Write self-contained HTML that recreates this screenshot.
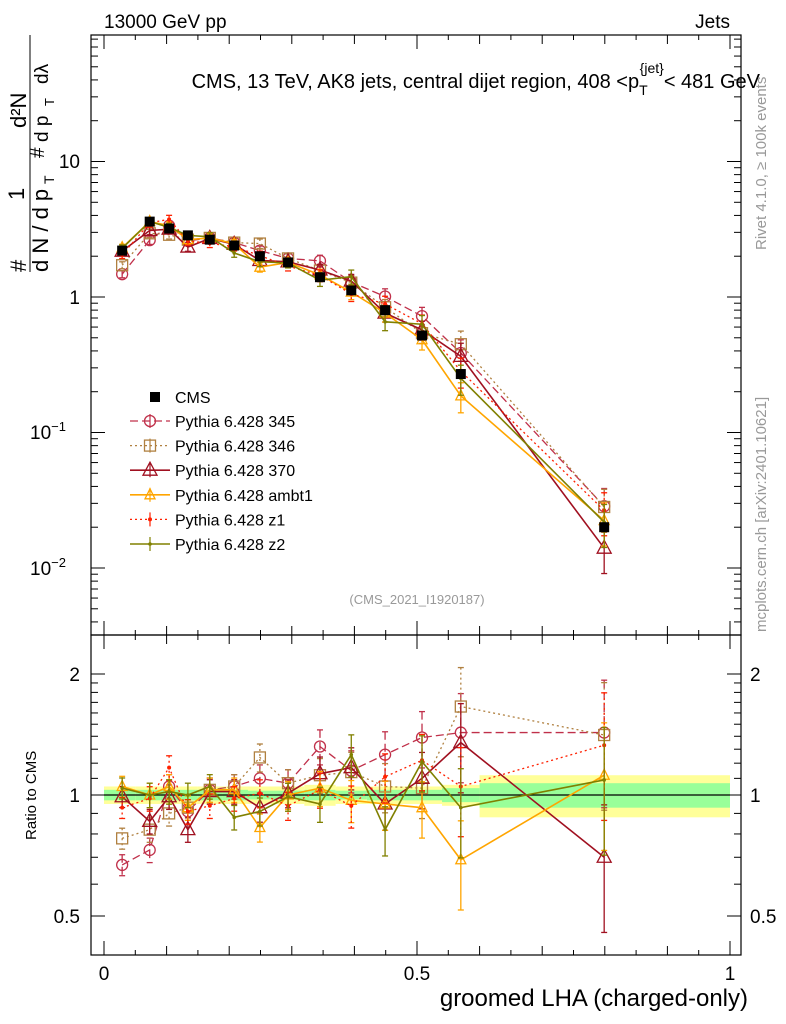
<!DOCTYPE html>
<html><head><meta charset="utf-8"><style>
body{margin:0;background:#fff;}
svg{display:block;font-family:"Liberation Sans",sans-serif;}
</style></head><body>
<svg id="c" width="786" height="1024" xmlns="http://www.w3.org/2000/svg">
<rect x="0" y="0" width="786" height="1024" fill="#fff"/>
<g id="bands"></g>
<g id="series"></g>
<g id="axes" stroke="#000" fill="none"></g>
<g id="labels"></g>
<text x="104" y="28" font-size="19">13000 GeV pp</text>
<text x="730" y="28" font-size="19" text-anchor="end">Jets</text>
<text x="760" y="88" font-size="20" text-anchor="end">CMS, 13 TeV, AK8 jets, central dijet region, 408 &lt;p<tspan font-size="14" dy="7">T</tspan><tspan font-size="14" dy="-22" dx="-8">{jet}</tspan><tspan dy="15">&lt; 481 GeV</tspan></text>
<text transform="translate(766,250) rotate(-90)" font-size="15" fill="#999">Rivet 4.1.0, ≥ 100k events</text>
<text transform="translate(766,632) rotate(-90)" font-size="15" fill="#999">mcplots.cern.ch [arXiv:2401.10621]</text>
<text x="417" y="604" font-size="13" fill="#999" text-anchor="middle">(CMS_2021_I1920187)</text>
<text x="748" y="1006" font-size="24" text-anchor="end">groomed LHA (charged-only)</text>
<text transform="translate(36,840) rotate(-90)" font-size="15">Ratio to CMS</text>
<g font-size="22">
<text transform="translate(26,272) rotate(-90)">#</text>
<text transform="translate(48,272) rotate(-90)">d N / d p</text>
<text transform="translate(54,184) rotate(-90)" font-size="14">T</text>
<text transform="translate(24,200) rotate(-90)">1</text>
<text transform="translate(44,158) rotate(-90)" font-size="19">#</text>
<text transform="translate(48,142) rotate(-90)" font-size="19">d p</text>
<text transform="translate(54,106) rotate(-90)" font-size="13">T</text>
<text transform="translate(26,128) rotate(-90)">d²N</text>
<text transform="translate(48,84) rotate(-90)" font-size="19">dλ</text>
<line x1="30" y1="272" x2="30" y2="35" stroke="#000"/>
</g>
<g id="legend"></g>
</svg>
<script>
const NS="http://www.w3.org/2000/svg";
const svg=document.getElementById('c');
const xs=[0.029,0.073,0.104,0.134,0.169,0.208,0.249,0.294,0.345,0.395,0.449,0.508,0.570,0.799];
const edges=[0,0.05,0.09,0.12,0.15,0.19,0.23,0.27,0.32,0.37,0.42,0.48,0.54,0.6,1.0];
const cms=[2.2,3.6,3.2,2.85,2.65,2.4,2.0,1.8,1.4,1.12,0.8,0.52,0.27,0.02];
const bandGreen=[0.03,0.03,0.03,0.03,0.03,0.03,0.025,0.025,0.03,0.025,0.03,0.03,0.04,0.07];
const bandYellow=[0.05,0.05,0.05,0.05,0.05,0.05,0.05,0.05,0.06,0.05,0.05,0.05,0.06,0.12];
const relErr=[0.06,0.07,0.07,0.07,0.07,0.07,0.08,0.08,0.1,0.12,0.14,0.16,0.25,0.35];
const r345=[0.67,0.73,1.05,0.91,1.03,1.05,1.10,1.07,1.32,1.15,1.26,1.39,1.43,1.43];
const r346=[0.78,0.82,0.90,0.93,1.03,1.05,1.24,1.07,1.12,1.14,1.05,1.04,1.66,1.41];
const r370=[0.99,0.86,0.99,0.82,1.02,1.02,0.93,1.01,1.13,1.17,0.95,1.10,1.35,0.70];
const rambt1=[1.05,1.0,1.05,0.93,1.03,1.03,0.83,1.0,1.04,0.97,0.95,0.93,0.69,1.12];
const rz1=[0.93,0.98,1.17,0.91,0.94,0.98,1.01,0.94,1.03,0.94,1.11,1.22,1.05,1.33];
const rz2=[1.04,1.0,1.02,1.0,1.05,0.88,0.91,0.99,0.95,1.26,0.82,1.21,0.93,1.09];
const seriesNames=["Pythia 6.428 345","Pythia 6.428 346","Pythia 6.428 370","Pythia 6.428 ambt1","Pythia 6.428 z1","Pythia 6.428 z2"];
const ratios=[r345,r346,r370,rambt1,rz1,rz2];
const styles=[
 {c:"#c0304a",d:"8,4",m:"circle",w:1.3,key:"pythia-345"},
 {c:"#b08040",d:"2,3",m:"square",w:1.3,key:"pythia-346"},
 {c:"#a01020",d:"",m:"tri",w:1.6,key:"pythia-370"},
 {c:"#ffa500",d:"",m:"tri-s",w:1.6,key:"pythia-ambt1"},
 {c:"#ff2000",d:"2,3",m:"dot",w:1.3,key:"pythia-z1"},
 {c:"#808000",d:"",m:"dot2",w:1.6,key:"pythia-z2"}];
const X=v=>104+v*626;
const Ym=v=>297-Math.log10(v)*135.5;
const Yr=v=>795-Math.log2(v)*121;
function el(t,a,p){const e=document.createElementNS(NS,t);for(const k in a)e.setAttribute(k,a[k]);(p||svg).appendChild(e);return e;}
const gb=document.getElementById('bands');
for(let i=0;i<xs.length;i++){
 const r1=el('rect',{x:X(edges[i]),width:X(edges[i+1])-X(edges[i]),y:Yr(1+bandYellow[i]),height:Yr(1-bandYellow[i])-Yr(1+bandYellow[i]),fill:"#ffff99"},gb);
 
 
 const r2=el('rect',{x:X(edges[i]),width:X(edges[i+1])-X(edges[i]),y:Yr(1+bandGreen[i]),height:Yr(1-bandGreen[i])-Yr(1+bandGreen[i]),fill:"#99ff99"},gb);
 
 
}
el('line',{x1:X(0),x2:X(1),y1:Yr(1),y2:Yr(1),stroke:"#000","stroke-width":1.2},gb);
function marker(g,m,x,y,c){
 if(m=="circle")el('circle',{cx:x,cy:y,r:5.5,fill:"none",stroke:c,"stroke-width":1.3},g);
 else if(m=="square")el('rect',{x:x-5.5,y:y-5.5,width:11,height:11,fill:"none",stroke:c,"stroke-width":1.3},g);
 else if(m=="tri")el('polygon',{points:`${x},${y-8} ${x-7},${y+5} ${x+7},${y+5}`,fill:"none",stroke:c,"stroke-width":1.3},g);
 else if(m=="tri-s")el('polygon',{points:`${x},${y-6} ${x-5},${y+4} ${x+5},${y+4}`,fill:"none",stroke:c,"stroke-width":1.3},g);
 else if(m=="dot")el('circle',{cx:x,cy:y,r:2,fill:c},g);
 else if(m=="dot2")el('circle',{cx:x,cy:y,r:1.8,fill:c},g);
 else if(m=="sq-fill")el('rect',{x:x-5,y:y-5,width:10,height:10,fill:c},g);
}
const gs=document.getElementById('series');
styles.forEach((s,k)=>{
 const g=el('g',{},gs);
 
 
 const r=ratios[k];
 let pm="",pr="";
 for(let i=0;i<xs.length;i++){const v=cms[i]*r[i];pm+=(i?"L":"M")+X(xs[i])+","+Ym(v);pr+=(i?"L":"M")+X(xs[i])+","+Yr(r[i]);}
 el('path',{d:pm,fill:"none",stroke:s.c,"stroke-width":s.w,"stroke-dasharray":s.d},g);
 el('path',{d:pr,fill:"none",stroke:s.c,"stroke-width":s.w,"stroke-dasharray":s.d},g);
 for(let i=0;i<xs.length;i++){
  const v=cms[i]*r[i],e=relErr[i],x=X(xs[i]);
  el('line',{x1:x,x2:x,y1:Ym(v*(1+e)),y2:Ym(v*(1-e)),stroke:s.c,"stroke-width":1.3,"stroke-dasharray":s.d},g);
  el('line',{x1:x,x2:x,y1:Yr(r[i]*(1+e)),y2:Yr(Math.max(0.4,r[i]*(1-e))),stroke:s.c,"stroke-width":1.3,"stroke-dasharray":s.d},g);
  [Ym(v*(1+e)),Ym(v*(1-e)),Yr(r[i]*(1+e)),Yr(Math.max(0.4,r[i]*(1-e)))].forEach(yy=>el('line',{x1:x-3,x2:x+3,y1:yy,y2:yy,stroke:s.c,"stroke-width":1.3},g));
  marker(g,s.m,x,Ym(v),s.c);
  marker(g,s.m,x,Yr(r[i]),s.c);
 }
});
const gc=el('g',{},gs);


for(let i=0;i<xs.length;i++){marker(gc,"sq-fill",X(xs[i]),Ym(cms[i]),"#000");}
const ga=document.getElementById('axes');
el('rect',{x:91,y:35,width:650,height:600,"stroke-width":1.2},ga);
el('rect',{x:91,y:635,width:650,height:320,"stroke-width":1.2},ga);
const gl=document.getElementById('labels');
function txt(x,y,s,a,fs,name){const t=el('text',{x:x,y:y,"font-size":fs||19,"text-anchor":a||"end"},gl);t.textContent=s;return t;}
for(let d=-3;d<=1;d++){for(let m=1;m<10;m++){const v=m*Math.pow(10,d);const y=Ym(v);if(y<35||y>635)continue;const L=m==1?14:7;
 el('line',{x1:91,x2:91+L,y1:y,y2:y},ga);el('line',{x1:741,x2:741-L,y1:y,y2:y},ga);}}
txt(80,168,"10","end",19,"y-tick-10");txt(80,304,"1","end",19,"y-tick-1");
let t=txt(66,439,"10","end",19,"y-tick-0.1");t.innerHTML='10<tspan dy="-8" font-size="13">−1</tspan>';
t=txt(66,575,"10","end",19,"y-tick-0.01");t.innerHTML='10<tspan dy="-8" font-size="13">−2</tspan>';
[0.5,0.6,0.7,0.8,0.9,1,1.1,1.2,1.3,1.4,1.5,1.6,1.7,1.8,1.9,2].forEach(v=>{const y=Yr(v);const L=(v==0.5||v==1||v==2)?14:7;el('line',{x1:91,x2:91+L,y1:y,y2:y},ga);el('line',{x1:741,x2:741-L,y1:y,y2:y},ga);});
[[2,"2"],[1,"1"],[0.5,"0.5"]].forEach(([v,s])=>{txt(80,Yr(v)+7,s,"end",19,"ratio-tick-"+s);txt(750,Yr(v)+7,s,"start",19,"ratio-tick-right-"+s);});
for(let i=0;i<=20;i++){const v=i*0.05,x=X(v);const L=i%10==0?14:(i%2==0?9:5);
 [[955,-1],[635,-1],[635,1],[35,1]].forEach(([y,s])=>el('line',{x1:x,x2:x,y1:y,y2:y+s*L},ga));}
txt(X(0),980,"0","middle",19,"x-tick-0");txt(X(0.5),980,"0.5","middle",19,"x-tick-0.5");txt(X(1),980,"1","middle",19,"x-tick-1");
const lg=document.getElementById('legend');
const le=el('g',{},lg);
marker(le,"sq-fill",155,397,"#000");let lt=el('text',{x:175,y:403,"font-size":16},le);lt.textContent="CMS";
styles.forEach((s,k)=>{const y=421+k*24.6;const g=el('g',{},lg);
 
 
 el('line',{x1:130,x2:170,y1:y,y2:y,stroke:s.c,"stroke-width":s.w,"stroke-dasharray":s.d},g);
 el('line',{x1:150,x2:150,y1:y-7,y2:y+7,stroke:s.c,"stroke-width":1.2},g);
 marker(g,s.m,150,y,s.c);
 const tt=el('text',{x:175,y:y+6,"font-size":16},g);tt.textContent=seriesNames[k];});
</script>
</body></html>
